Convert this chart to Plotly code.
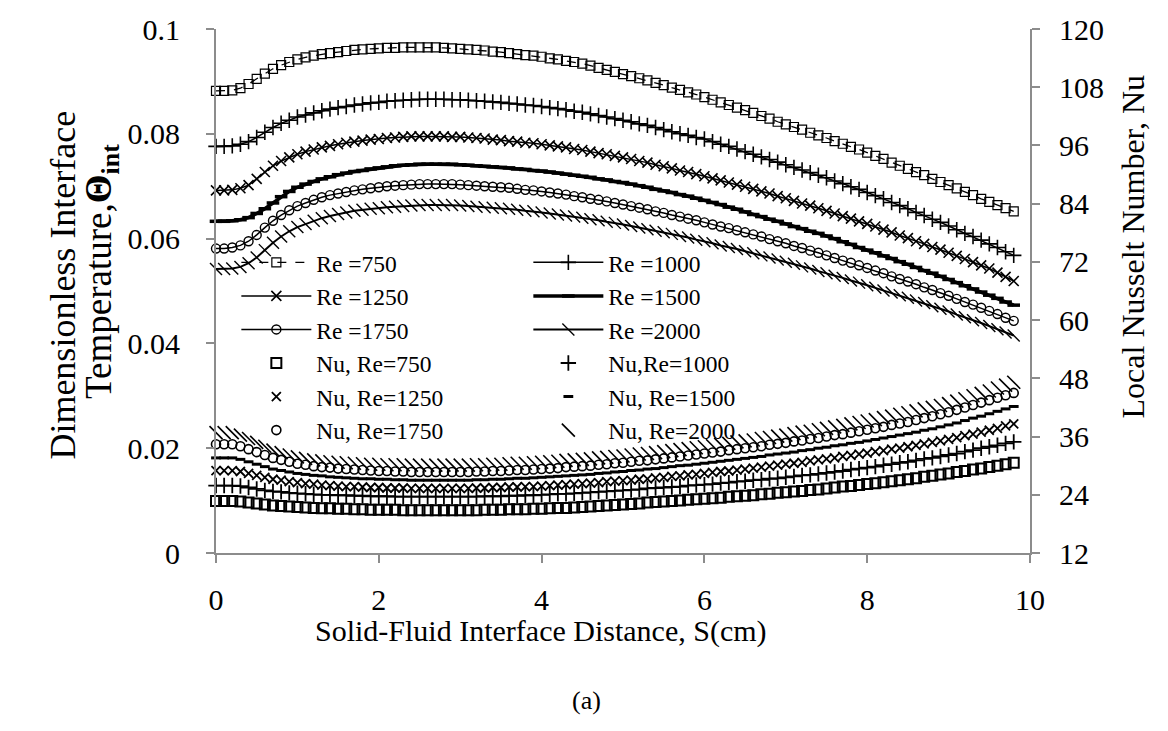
import plotly.graph_objects as go

# Distance along the solid-fluid interface (cm), 0.1 cm spacing
S_CM = [round(0.1 * i, 1) for i in range(99)]

# Dimensionless interface temperature, one list per Reynolds number
THETA_RE750 = [
    .0882, .0882, .0883, .0887, .0895, .0905, .0915, .0924, .0931, .0937,
    .0942, .0946, .0949, .0952, .0954, .0956, .0958, .0960, .0961, .0962,
    .0963, .0964, .0964, .0965, .0965, .0965, .0965, .0965, .0964, .0963,
    .0962, .0961, .0960, .0959, .0957, .0956, .0954, .0952, .0950, .0949,
    .0947, .0944, .0942, .0939, .0937, .0934, .0930, .0926, .0922, .0918,
    .0914, .0910, .0906, .0902, .0897, .0893, .0888, .0884, .0879, .0875,
    .0870, .0865, .0860, .0855, .0850, .0845, .0840, .0834, .0829, .0823,
    .0818, .0813, .0808, .0802, .0797, .0792, .0786, .0781, .0775, .0770,
    .0764, .0758, .0752, .0745, .0739, .0733, .0727, .0721, .0714, .0708,
    .0702, .0696, .0689, .0683, .0676, .0670, .0664, .0658, .0652]
THETA_RE1000 = [
    .0776, .0776, .0777, .0780, .0785, .0793, .0803, .0812, .0820, .0826,
    .0832, .0836, .0840, .0844, .0847, .0850, .0852, .0855, .0857, .0859,
    .0860, .0862, .0863, .0864, .0865, .0866, .0866, .0866, .0866, .0865,
    .0865, .0864, .0863, .0862, .0861, .0860, .0858, .0857, .0855, .0854,
    .0852, .0850, .0848, .0846, .0843, .0841, .0838, .0835, .0832, .0829,
    .0826, .0823, .0819, .0816, .0812, .0808, .0804, .0800, .0797, .0793,
    .0790, .0785, .0780, .0776, .0771, .0766, .0761, .0756, .0751, .0746,
    .0741, .0736, .0731, .0726, .0721, .0716, .0710, .0705, .0699, .0694,
    .0688, .0682, .0676, .0669, .0663, .0657, .0650, .0644, .0637, .0631,
    .0624, .0617, .0610, .0604, .0597, .0590, .0583, .0575, .0568]
THETA_RE1250 = [
    .0692, .0692, .0693, .0696, .0702, .0714, .0727, .0739, .0748, .0755,
    .0761, .0766, .0770, .0774, .0777, .0780, .0783, .0785, .0787, .0789,
    .0790, .0792, .0793, .0794, .0795, .0795, .0795, .0795, .0795, .0794,
    .0794, .0793, .0792, .0791, .0789, .0788, .0786, .0785, .0783, .0782,
    .0780, .0778, .0776, .0774, .0771, .0769, .0766, .0763, .0761, .0758,
    .0755, .0752, .0748, .0745, .0741, .0738, .0734, .0730, .0727, .0723,
    .0719, .0715, .0711, .0707, .0703, .0699, .0695, .0690, .0686, .0681,
    .0677, .0672, .0667, .0663, .0658, .0653, .0648, .0643, .0638, .0633,
    .0628, .0623, .0617, .0612, .0606, .0601, .0595, .0590, .0584, .0579,
    .0573, .0567, .0561, .0555, .0549, .0543, .0535, .0527, .0519]
THETA_RE1500 = [
    .0633, .0633, .0634, .0636, .0640, .0648, .0657, .0668, .0680, .0690,
    .0698, .0704, .0709, .0714, .0718, .0722, .0725, .0728, .0730, .0733,
    .0735, .0737, .0739, .0740, .0741, .0742, .0742, .0742, .0742, .0742,
    .0741, .0740, .0739, .0738, .0737, .0736, .0735, .0733, .0732, .0730,
    .0729, .0727, .0725, .0723, .0721, .0719, .0717, .0714, .0712, .0709,
    .0707, .0704, .0701, .0698, .0694, .0691, .0688, .0684, .0681, .0677,
    .0673, .0669, .0665, .0660, .0656, .0651, .0646, .0642, .0637, .0633,
    .0628, .0623, .0619, .0614, .0610, .0605, .0600, .0594, .0589, .0583,
    .0578, .0573, .0567, .0562, .0556, .0551, .0545, .0539, .0534, .0528,
    .0522, .0516, .0510, .0504, .0498, .0492, .0486, .0479, .0473]
THETA_RE1750 = [
    .0581, .0581, .0583, .0587, .0595, .0607, .0621, .0634, .0645, .0654,
    .0662, .0668, .0674, .0679, .0683, .0686, .0689, .0692, .0694, .0696,
    .0698, .0700, .0701, .0702, .0703, .0704, .0704, .0704, .0704, .0704,
    .0703, .0702, .0701, .0700, .0699, .0698, .0697, .0695, .0693, .0692,
    .0690, .0688, .0686, .0684, .0681, .0679, .0676, .0674, .0671, .0668,
    .0665, .0662, .0659, .0656, .0652, .0649, .0645, .0642, .0638, .0635,
    .0631, .0627, .0623, .0620, .0616, .0612, .0608, .0604, .0599, .0595,
    .0591, .0586, .0582, .0577, .0573, .0568, .0563, .0558, .0554, .0549,
    .0544, .0539, .0534, .0528, .0523, .0518, .0513, .0507, .0502, .0496,
    .0491, .0485, .0479, .0474, .0468, .0462, .0456, .0449, .0443]
THETA_RE2000 = [
    .0542, .0542, .0543, .0546, .0553, .0564, .0578, .0592, .0604, .0614,
    .0622, .0628, .0634, .0639, .0643, .0647, .0650, .0653, .0655, .0657,
    .0658, .0660, .0661, .0662, .0663, .0664, .0664, .0664, .0664, .0664,
    .0663, .0662, .0661, .0660, .0659, .0658, .0657, .0655, .0653, .0652,
    .0650, .0648, .0646, .0644, .0642, .0640, .0637, .0635, .0632, .0630,
    .0627, .0624, .0621, .0618, .0615, .0612, .0609, .0605, .0602, .0598,
    .0595, .0591, .0587, .0584, .0580, .0576, .0572, .0568, .0564, .0560,
    .0556, .0552, .0547, .0543, .0538, .0534, .0529, .0525, .0520, .0516,
    .0511, .0506, .0501, .0497, .0492, .0487, .0482, .0477, .0471, .0466,
    .0461, .0455, .0450, .0444, .0439, .0433, .0427, .0421, .0415]

# Local Nusselt number, one list per Reynolds number
NU_RE750 = [
    22.7, 22.7, 22.7, 22.6, 22.4, 22.2, 22.0, 21.8, 21.7, 21.6,
    21.5, 21.4, 21.3, 21.2, 21.2, 21.1, 21.1, 21.0, 21.0, 20.9,
    20.9, 20.9, 20.9, 20.8, 20.8, 20.8, 20.8, 20.8, 20.8, 20.8,
    20.8, 20.8, 20.8, 20.9, 20.9, 20.9, 21.0, 21.0, 21.0, 21.1,
    21.1, 21.2, 21.3, 21.3, 21.4, 21.5, 21.6, 21.7, 21.8, 21.9,
    22.0, 22.1, 22.2, 22.4, 22.5, 22.6, 22.7, 22.8, 23.0, 23.1,
    23.2, 23.3, 23.4, 23.6, 23.7, 23.8, 23.9, 24.1, 24.2, 24.4,
    24.5, 24.7, 24.8, 25.0, 25.1, 25.3, 25.5, 25.7, 25.8, 26.0,
    26.2, 26.4, 26.6, 26.8, 27.0, 27.2, 27.4, 27.7, 27.9, 28.2,
    28.4, 28.7, 28.9, 29.2, 29.4, 29.7, 30.0, 30.3, 30.6]
NU_RE1000 = [
    25.9, 25.9, 25.9, 25.8, 25.5, 25.2, 24.9, 24.7, 24.6, 24.4,
    24.3, 24.2, 24.1, 24.0, 24.0, 23.9, 23.9, 23.8, 23.8, 23.7,
    23.7, 23.7, 23.6, 23.6, 23.6, 23.6, 23.6, 23.6, 23.6, 23.6,
    23.6, 23.6, 23.6, 23.7, 23.7, 23.7, 23.8, 23.8, 23.9, 23.9,
    24.0, 24.1, 24.2, 24.2, 24.3, 24.4, 24.5, 24.6, 24.7, 24.8,
    24.9, 25.0, 25.1, 25.3, 25.4, 25.5, 25.6, 25.7, 25.9, 26.0,
    26.1, 26.2, 26.4, 26.5, 26.7, 26.8, 27.0, 27.1, 27.3, 27.4,
    27.6, 27.8, 28.0, 28.1, 28.3, 28.5, 28.7, 28.9, 29.2, 29.4,
    29.6, 29.8, 30.1, 30.3, 30.6, 30.8, 31.1, 31.4, 31.6, 31.9,
    32.2, 32.5, 32.9, 33.2, 33.6, 33.9, 34.2, 34.6, 34.9]
NU_RE1250 = [
    29.0, 29.0, 29.0, 28.8, 28.4, 28.0, 27.6, 27.2, 27.0, 26.7,
    26.5, 26.3, 26.2, 26.0, 25.9, 25.8, 25.7, 25.7, 25.6, 25.5,
    25.5, 25.4, 25.4, 25.4, 25.3, 25.3, 25.3, 25.3, 25.3, 25.3,
    25.3, 25.3, 25.4, 25.4, 25.5, 25.5, 25.6, 25.6, 25.7, 25.7,
    25.8, 25.9, 26.0, 26.1, 26.2, 26.3, 26.4, 26.5, 26.7, 26.8,
    26.9, 27.0, 27.2, 27.3, 27.5, 27.6, 27.8, 27.9, 28.1, 28.2,
    28.4, 28.6, 28.8, 28.9, 29.1, 29.3, 29.5, 29.7, 29.9, 30.1,
    30.3, 30.5, 30.7, 31.0, 31.2, 31.4, 31.6, 31.9, 32.1, 32.4,
    32.6, 32.9, 33.1, 33.4, 33.6, 33.9, 34.2, 34.5, 34.8, 35.1,
    35.4, 35.8, 36.2, 36.5, 36.9, 37.3, 37.7, 38.2, 38.6]
NU_RE1500 = [
    31.6, 31.6, 31.6, 31.3, 30.8, 30.3, 29.8, 29.3, 29.0, 28.7,
    28.4, 28.2, 28.0, 27.9, 27.7, 27.6, 27.5, 27.4, 27.3, 27.3,
    27.2, 27.2, 27.1, 27.1, 27.0, 27.0, 27.0, 27.0, 27.0, 27.0,
    27.0, 27.0, 27.1, 27.1, 27.2, 27.2, 27.3, 27.4, 27.4, 27.5,
    27.6, 27.7, 27.8, 27.9, 28.0, 28.1, 28.2, 28.4, 28.5, 28.7,
    28.8, 29.0, 29.1, 29.3, 29.4, 29.6, 29.8, 30.0, 30.1, 30.3,
    30.5, 30.7, 30.9, 31.1, 31.3, 31.5, 31.7, 31.9, 32.2, 32.4,
    32.6, 32.8, 33.1, 33.3, 33.6, 33.8, 34.1, 34.3, 34.6, 34.8,
    35.1, 35.4, 35.7, 36.0, 36.3, 36.6, 36.9, 37.3, 37.6, 38.0,
    38.4, 38.8, 39.3, 39.8, 40.2, 40.7, 41.2, 41.7, 42.2]
NU_RE1750 = [
    34.4, 34.4, 34.4, 34.0, 33.4, 32.8, 32.2, 31.6, 31.2, 30.8,
    30.4, 30.2, 29.9, 29.7, 29.6, 29.4, 29.3, 29.2, 29.1, 29.0,
    28.9, 28.9, 28.8, 28.8, 28.7, 28.7, 28.7, 28.7, 28.7, 28.7,
    28.7, 28.7, 28.8, 28.8, 28.9, 28.9, 29.0, 29.1, 29.1, 29.2,
    29.3, 29.4, 29.5, 29.7, 29.8, 29.9, 30.0, 30.2, 30.3, 30.5,
    30.6, 30.8, 31.0, 31.1, 31.3, 31.5, 31.7, 31.9, 32.1, 32.3,
    32.5, 32.7, 32.9, 33.2, 33.4, 33.6, 33.8, 34.0, 34.3, 34.5,
    34.7, 35.0, 35.2, 35.5, 35.7, 36.0, 36.3, 36.5, 36.8, 37.1,
    37.4, 37.7, 38.0, 38.4, 38.7, 39.0, 39.4, 39.8, 40.2, 40.6,
    41.0, 41.5, 42.0, 42.5, 43.0, 43.5, 44.0, 44.5, 45.0]
NU_RE2000 = [
    36.8, 36.8, 36.8, 36.3, 35.6, 34.8, 34.0, 33.2, 32.7, 32.2,
    31.8, 31.5, 31.2, 31.0, 30.8, 30.7, 30.6, 30.5, 30.4, 30.3,
    30.3, 30.2, 30.2, 30.2, 30.1, 30.1, 30.1, 30.1, 30.1, 30.1,
    30.1, 30.1, 30.2, 30.2, 30.3, 30.3, 30.4, 30.5, 30.5, 30.6,
    30.7, 30.8, 30.9, 31.1, 31.2, 31.3, 31.4, 31.6, 31.7, 31.9,
    32.0, 32.2, 32.4, 32.5, 32.7, 32.9, 33.1, 33.3, 33.5, 33.7,
    33.9, 34.1, 34.4, 34.6, 34.9, 35.1, 35.3, 35.6, 35.8, 36.1,
    36.3, 36.6, 36.9, 37.1, 37.4, 37.7, 38.0, 38.3, 38.6, 38.9,
    39.2, 39.5, 39.9, 40.2, 40.6, 40.9, 41.3, 41.7, 42.0, 42.4,
    42.8, 43.3, 43.8, 44.4, 44.9, 45.4, 46.0, 46.6, 47.2]

THETA_NAMES = ["Re =750", "Re =1000", "Re =1250", "Re =1500", "Re =1750", "Re =2000"]
NU_NAMES = ["Nu, Re=750", "Nu,Re=1000", "Nu, Re=1250", "Nu, Re=1500", "Nu, Re=1750", "Nu, Re=2000"]

THETA_SERIES = [THETA_RE750, THETA_RE1000, THETA_RE1250, THETA_RE1500, THETA_RE1750, THETA_RE2000]
NU_SERIES = [NU_RE750, NU_RE1000, NU_RE1250, NU_RE1500, NU_RE1750, NU_RE2000]

SERIF = "Liberation Serif, Times New Roman, serif"
AXIS_GREY = "#8c8c8c"

# plot-area edges in pixels, used to place the free-standing titles
PLOT_L, PLOT_R, PLOT_T, PLOT_B = 216, 1030, 18, 553


def px_x(px):
    return (px - PLOT_L) / (PLOT_R - PLOT_L)


def px_y(px):
    return (PLOT_B - px) / (PLOT_B - PLOT_T)


# marker style per Reynolds number: (symbol, size, marker line width)
THETA_MARKERS = [
    ("square-open", 9, 1.2),
    ("cross-thin-open", 11, 1.6),
    ("x-thin-open", 10, 1.6),
    ("line-ew-open", 9, 3.5),
    ("circle-open", 9, 1.4),
    ("line-nw-open", 12, 1.4),
]
THETA_LINES = [
    dict(color="black", width=1.3, dash="dash"),
    dict(color="black", width=1.5),
    dict(color="black", width=1.5),
    dict(color="black", width=3.5),
    dict(color="black", width=1.5),
    dict(color="black", width=2.0),
]
NU_MARKERS = [
    ("square-open", 10, 2.0),
    ("cross-thin-open", 11, 1.8),
    ("x-thin-open", 9, 1.8),
    ("line-ew-open", 7, 3.0),
    ("circle-open", 9, 1.6),
    ("line-nw-open", 13, 1.6),
]

fig = go.Figure()

for name, vals, (sym, size, lw), line in zip(THETA_NAMES, THETA_SERIES, THETA_MARKERS, THETA_LINES):
    fig.add_trace(go.Scatter(
        x=S_CM, y=vals, name=name, mode="lines+markers", yaxis="y",
        line=line, cliponaxis=False,
        marker=dict(symbol=sym, size=size, color="black", line=dict(color="black", width=lw)),
    ))

for name, vals, (sym, size, lw) in zip(NU_NAMES, NU_SERIES, NU_MARKERS):
    fig.add_trace(go.Scatter(
        x=S_CM, y=vals, name=name, mode="markers", yaxis="y2", cliponaxis=False,
        marker=dict(symbol=sym, size=size, color="black", line=dict(color="black", width=lw)),
    ))

tick_font = dict(family=SERIF, size=30, color="black")
axis_common = dict(
    showgrid=False, zeroline=False, showline=True, linecolor=AXIS_GREY, linewidth=2,
    ticks="outside", ticklen=8, tickwidth=1.5, tickcolor=AXIS_GREY, tickfont=tick_font,
)

fig.update_layout(
    width=1168, height=731,
    margin=dict(l=PLOT_L, r=1168 - PLOT_R, t=PLOT_T, b=731 - PLOT_B),
    paper_bgcolor="white", plot_bgcolor="white",
    font=dict(family=SERIF, color="black"),
    showlegend=True,
    legend=dict(
        orientation="h", x=0.025, y=px_y(234), xanchor="left", yanchor="top",
        entrywidth=207, itemwidth=70, bgcolor="rgba(0,0,0,0)",
        font=dict(family=SERIF, size=23.5, color="black"),
        traceorder="normal",
    ),
    xaxis=dict(range=[0, 10], tick0=0, dtick=2, ticklabelstandoff=11, **axis_common),
    yaxis=dict(range=[0, 0.1], tick0=0, dtick=0.02, ticklabelstandoff=20, **axis_common),
    yaxis2=dict(range=[12, 120], tick0=12, dtick=12, overlaying="y", side="right",
                ticklabelstandoff=13, **axis_common),
    annotations=[
        dict(text="Dimensionless Interface", xref="paper", yref="paper",
             x=px_x(63), y=px_y(280), xanchor="center", yanchor="middle",
             textangle=-90, showarrow=False,
             font=dict(family=SERIF, size=36, color="black")),
        dict(text="Temperature,<b>Θ<sub>int</sub></b>", xref="paper", yref="paper",
             x=px_x(102), y=px_y(266), xanchor="center", yanchor="middle",
             textangle=-90, showarrow=False,
             font=dict(family=SERIF, size=37, color="black")),
        dict(text="Local Nusselt Number, Nu", xref="paper", yref="paper",
             x=px_x(1133), y=px_y(240), xanchor="center", yanchor="middle",
             textangle=-90, showarrow=False,
             font=dict(family=SERIF, size=32, color="black")),
        dict(text="Solid-Fluid Interface Distance, S(cm)", xref="paper", yref="paper",
             x=px_x(541), y=px_y(633), xanchor="center", yanchor="middle", showarrow=False,
             font=dict(family=SERIF, size=30, color="black")),
        dict(text="(a)", xref="paper", yref="paper",
             x=px_x(586), y=px_y(704), xanchor="center", yanchor="middle", showarrow=False,
             font=dict(family=SERIF, size=26, color="black")),
    ],
)

fig.write_html("out.html")
